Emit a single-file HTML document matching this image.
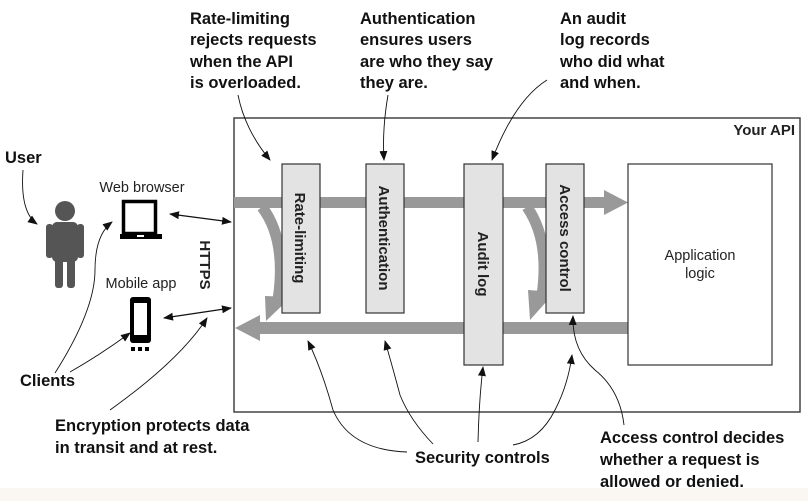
<!DOCTYPE html>
<html><head><meta charset="utf-8"><style>
html,body{margin:0;padding:0;background:#fff;}
svg{display:block}
.b{font-family:"Liberation Sans Narrow","Liberation Sans",sans-serif;font-weight:bold;font-size:16.5px;fill:#111}
.r{font-family:"Liberation Sans",sans-serif;font-size:14.5px;fill:#222}
.v{font-family:"Liberation Sans",sans-serif;font-weight:bold;font-size:15px;fill:#222}
</style></head><body>
<svg width="808" height="501" viewBox="0 0 808 501" xmlns="http://www.w3.org/2000/svg">
<defs>
<marker id="a" markerWidth="10" markerHeight="8" refX="9" refY="4" orient="auto" markerUnits="userSpaceOnUse"><path d="M0,0 L10,4 L0,8 Z" fill="#111"/></marker>
<marker id="s" markerWidth="10" markerHeight="8" refX="1" refY="4" orient="auto" markerUnits="userSpaceOnUse"><path d="M10,0 L0,4 L10,8 Z" fill="#111"/></marker>
</defs>
<rect x="0" y="0" width="808" height="501" fill="#fff"/>
<rect x="0" y="488" width="808" height="13" fill="#faf7f2"/>
<rect x="234" y="118" width="566" height="294" fill="#fff" stroke="#444" stroke-width="1.5"/>
<text x="795" y="135" class="v" text-anchor="end">Your API</text>

<rect x="234" y="197" width="372" height="11" fill="#999"/>
<path d="M604,190 L628,202.5 L604,215 Z" fill="#999"/>
<rect x="258" y="322" width="370" height="12" fill="#999"/>
<path d="M260,315 L235,328 L260,341 Z" fill="#999"/>
<path d="M262,207 Q287,240 278,300" fill="none" stroke="#999" stroke-width="11"/>
<path d="M265,296 L291,297 L266,321 Z" fill="#999" />
<path d="M527,207 Q550,240 542,295" fill="none" stroke="#999" stroke-width="11"/>
<path d="M528,290 L555,292 L530,320 Z" fill="#999"/>

<rect x="282" y="164" width="38" height="149" fill="#e3e3e3" stroke="#333" stroke-width="1.2"/>
<rect x="366" y="164" width="38" height="149" fill="#e3e3e3" stroke="#333" stroke-width="1.2"/>
<rect x="464" y="164" width="39" height="201" fill="#e3e3e3" stroke="#333" stroke-width="1.2"/>
<rect x="546" y="164" width="38" height="149" fill="#e3e3e3" stroke="#333" stroke-width="1.2"/>
<rect x="628" y="164" width="144" height="201" fill="#fff" stroke="#333" stroke-width="1.2"/>
<text class="v" transform="translate(295,238) rotate(90)" text-anchor="middle">Rate-limiting</text>
<text class="v" transform="translate(379,238) rotate(90)" text-anchor="middle">Authentication</text>
<text class="v" transform="translate(478,264) rotate(90)" text-anchor="middle">Audit log</text>
<text class="v" transform="translate(560,238) rotate(90)" text-anchor="middle">Access control</text>
<text class="r" x="700" y="260" text-anchor="middle">Application</text>
<text class="r" x="700" y="278" text-anchor="middle">logic</text>

<text class="v" transform="translate(200,265) rotate(90)" text-anchor="middle">HTTPS</text>

<g fill="#555">
<circle cx="65" cy="211" r="10"/>
<rect x="52" y="222" width="26" height="40" rx="5"/>
<rect x="46" y="224" width="7" height="34" rx="3"/>
<rect x="77" y="224" width="7" height="34" rx="3"/>
<rect x="55" y="250" width="8" height="38" rx="3"/>
<rect x="67" y="250" width="8" height="38" rx="3"/>
</g>
<text class="r" x="142" y="192" text-anchor="middle">Web browser</text>
<rect x="123.5" y="201.5" width="32" height="32" fill="none" stroke="#000" stroke-width="3.5"/>
<rect x="120" y="234" width="42" height="5" fill="#000"/>
<rect x="137" y="235" width="7" height="2" fill="#fff"/>
<text class="r" x="141" y="288" text-anchor="middle">Mobile app</text>
<rect x="130" y="297" width="21" height="46" rx="3" fill="#000"/>
<rect x="134" y="303" width="13" height="32" fill="#fff"/>
<rect x="131" y="347" width="4" height="4" fill="#000"/><rect x="138" y="347" width="4" height="4" fill="#000"/><rect x="145" y="347" width="4" height="4" fill="#000"/>
<line x1="170" y1="214" x2="231" y2="222" stroke="#111" stroke-width="1.2" marker-start="url(#s)" marker-end="url(#a)"/>
<line x1="164" y1="318" x2="231" y2="308" stroke="#111" stroke-width="1.2" marker-start="url(#s)" marker-end="url(#a)"/>

<text class="b" x="5" y="163">User</text>
<text class="b" x="20" y="386">Clients</text>
<g class="b">
<text x="190" y="24">Rate-limiting</text><text x="190" y="45">rejects requests</text><text x="190" y="67">when the API</text><text x="190" y="88">is overloaded.</text>
<text x="360" y="24">Authentication</text><text x="360" y="45">ensures users</text><text x="360" y="67">are who they say</text><text x="360" y="88">they are.</text>
<text x="560" y="24">An audit</text><text x="560" y="45">log records</text><text x="560" y="67">who did what</text><text x="560" y="88">and when.</text>
<text x="55" y="431">Encryption protects data</text><text x="55" y="453">in transit and at rest.</text>
<text x="415" y="463">Security controls</text>
<text x="600" y="443">Access control decides</text><text x="600" y="465">whether a request is</text><text x="600" y="487">allowed or denied.</text>
</g>

<g fill="none" stroke="#111" stroke-width="0.9">
<path d="M238,95 Q245,130 270,160" marker-end="url(#a)"/>
<path d="M388,95 Q382,130 384,160" marker-end="url(#a)"/>
<path d="M547,80 Q515,100 492,160" marker-end="url(#a)"/>
<path d="M23,170 Q20,212 37,224" marker-end="url(#a)"/>
<path d="M55,373 Q95,310 95,270 Q95,235 112,222" marker-end="url(#a)"/>
<path d="M70,372 Q100,355 130,333" marker-end="url(#a)"/>
<path d="M110,410 Q180,360 207,318" marker-end="url(#a)"/>
<path d="M407,452 Q350,450 333,410 Q322,370 308,341" marker-end="url(#a)"/>
<path d="M433,444 Q410,420 400,395 Q392,365 385,341" marker-end="url(#a)"/>
<path d="M478,442 Q479,400 483,367" marker-end="url(#a)"/>
<path d="M513,445 Q540,440 555,410 Q568,385 572,355" marker-end="url(#a)"/>
<path d="M624,425 Q620,390 595,370 Q572,350 573,316" marker-end="url(#a)"/>
</g>
</svg>
</body></html>
